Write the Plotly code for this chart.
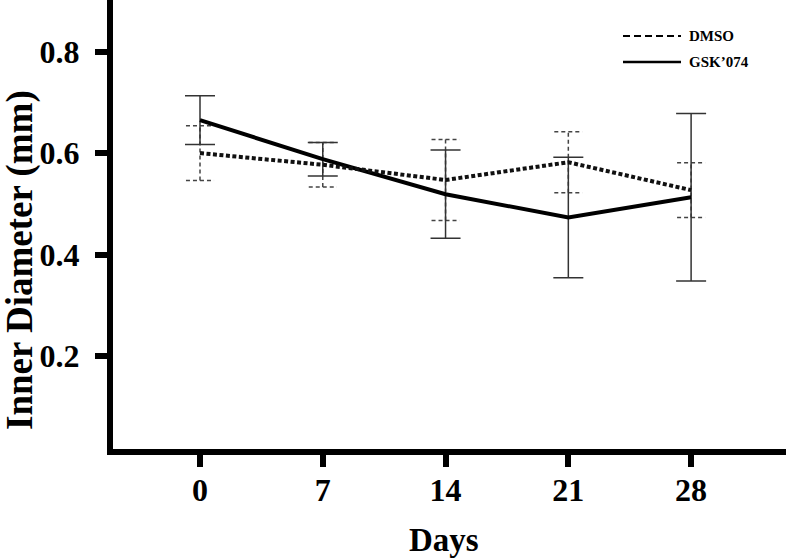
import plotly.graph_objects as go

# ---- data ----
days = [0, 7, 14, 21, 28]
dmso_mean = [0.600, 0.577, 0.547, 0.582, 0.527]
dmso_err = [0.054, 0.044, 0.080, 0.060, 0.054]
gsk_mean = [0.665, 0.588, 0.519, 0.473, 0.513]
gsk_err = [0.048, 0.033, 0.087, 0.119, 0.165]
x_ticks = [0, 7, 14, 21, 28]
y_ticks = [0.2, 0.4, 0.6, 0.8]
series_names = ["DMSO", "GSK\u2019074"]

# ---- geometry / style ----
W, H = 788, 559
ML, MR, MT, MB = 113, 2, 0, 110
PW, PH = W - ML - MR, H - MT - MB
FONT = "Liberation Serif, Times New Roman, serif"


def px_x(p):
    return (p - ML) / PW


def px_y(p):
    return 1 - (p - MT) / PH


cap = 0.8  # half-width of dashed caps in day units

ex, ey = [], []
for d, m, e in zip(days, dmso_mean, dmso_err):
    ex += [d, d, None, d - cap, d + cap, None, d - cap, d + cap, None]
    ey += [m - e, m + e, None, m + e, m + e, None, m - e, m - e, None]

fig = go.Figure()

# DMSO dashed error bars
fig.add_trace(go.Scatter(
    x=ex, y=ey, mode="lines", showlegend=False, hoverinfo="skip",
    line=dict(color="#444444", width=1.5, dash="4px,3px"),
))

# GSK'074 solid line with error bars
fig.add_trace(go.Scatter(
    x=days, y=gsk_mean, mode="lines", name=series_names[1], showlegend=False,
    line=dict(color="#000000", width=4),
    error_y=dict(type="data", array=gsk_err, visible=True,
                 color="#333333", thickness=1.5, width=15),
))

# DMSO dotted line
fig.add_trace(go.Scatter(
    x=days, y=dmso_mean, mode="lines", name=series_names[0], showlegend=False,
    line=dict(color="#111111", width=4, dash="4px,2.5px"),
))

axis_common = dict(
    showline=True, linewidth=6, linecolor="black",
    ticks="outside", ticklen=12, tickwidth=6, tickcolor="black",
    showgrid=False, zeroline=False,
    tickfont=dict(family=FONT, size=32, color="black", weight="bold"),
)

fig.update_layout(
    width=W, height=H,
    margin=dict(l=ML, r=MR, t=MT, b=MB, pad=0),
    paper_bgcolor="white", plot_bgcolor="white",
    showlegend=False,
    xaxis=dict(range=[-4.96, 33.41], tickvals=x_ticks,
               ticktext=[str(v) for v in x_ticks], ticklabelstandoff=-4,
               **axis_common),
    yaxis=dict(range=[0.0164, 0.902], tickvals=y_ticks,
               ticktext=[f"{v:.1f}" for v in y_ticks], ticklabelstandoff=9,
               **axis_common),
)

# axis titles
fig.add_annotation(text="Days", xref="paper", yref="paper",
                   x=px_x(444), y=px_y(540), xanchor="center", yanchor="middle",
                   showarrow=False,
                   font=dict(family=FONT, size=33, color="black", weight="bold"))
fig.add_annotation(text="Inner Diameter (mm)", xref="paper", yref="paper",
                   x=px_x(20), y=px_y(260), xanchor="center", yanchor="middle",
                   textangle=-90, showarrow=False,
                   font=dict(family=FONT, size=37, color="black", weight="bold"))

# manual legend
leg_rows = [(36, "7px,4px", 2, series_names[0]), (62, "solid", 2.5, series_names[1])]
for yy, dash, lw, name in leg_rows:
    fig.add_shape(type="line", xref="paper", yref="paper",
                  x0=px_x(623), x1=px_x(681), y0=px_y(yy), y1=px_y(yy),
                  line=dict(color="black", width=lw, dash=dash))
    fig.add_annotation(text=name, xref="paper", yref="paper",
                       x=px_x(687), y=px_y(yy), xanchor="left", yanchor="middle",
                       showarrow=False,
                       font=dict(family=FONT, size=15, color="black", weight="bold"))

fig.write_html(
    "out.html",
    config={"displayModeBar": False},
    post_script="document.body.style.margin='0';document.body.style.overflow='hidden';",
)
